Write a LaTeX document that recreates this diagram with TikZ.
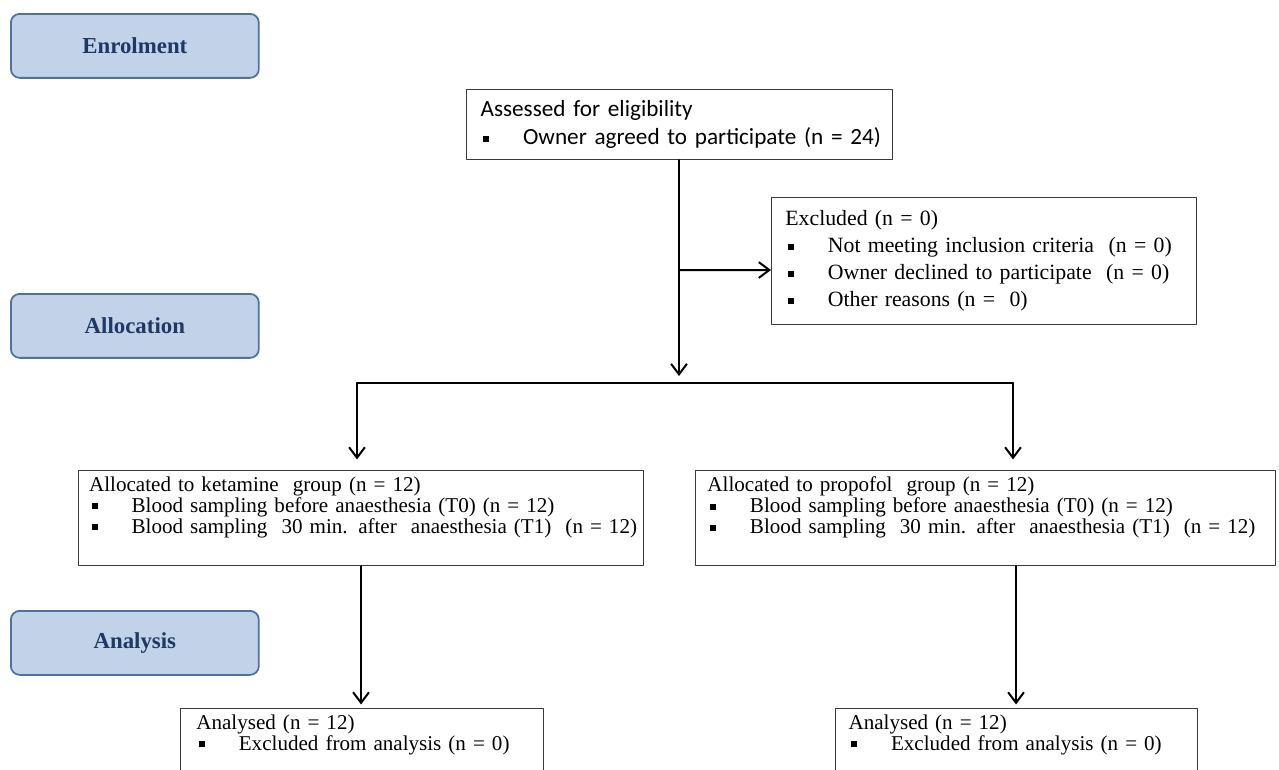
\documentclass[tikz,border=0pt]{standalone}
\usepackage{fontspec}
\setmainfont{Liberation Serif}
\newfontfamily\calibri{Carlito}
\usetikzlibrary{arrows.meta,positioning,calc}
\definecolor{phasefill}{HTML}{C2D3E9}
\definecolor{phaseline}{HTML}{4F719C}
\definecolor{phasetext}{HTML}{1F3864}
\definecolor{boxline}{HTML}{3A3A3A}
\newcommand{\sq}{\makebox[24.2pt][l]{\hspace{1.5pt}\rule[1.6pt]{3.4pt}{3.4pt}}}
\newcommand{\padbot}[1]{\rule[-#1]{0pt}{#1}}

\begin{document}
\begin{tikzpicture}[x=0.02cm,y=-0.02cm,font=\fontsize{12}{11.9}\selectfont,>={Straight Barb[length=6pt,width=9pt]},line cap=round,line join=round]
\tikzset{
 phase/.style={draw=phaseline,fill=phasefill,line width=1pt,rounded corners=5pt,anchor=north west,
  minimum width=4.96cm,minimum height=1.28cm,text=phasetext,font=\fontsize{13}{15}\selectfont\bfseries},
 panel/.style={draw=boxline,line width=0.6pt,anchor=north west,align=left,inner xsep=5.5pt,inner ysep=3.5pt},
 arr/.style={->,line width=0.04cm},
 conn/.style={line width=0.04cm}
}
\path[use as bounding box,clip] (0,0) rectangle (1279,769);
% phase labels on the left
\node[phase] (enrol) at (10,13) {Enrolment};
\node[phase] (alloc) at (10,293) {Allocation};
\node[phase] (anal) at (10,610) {Analysis};
% enrolment and exclusion
\node[panel,inner xsep=4pt,text width=8.24cm,minimum height=1.4cm,font=\calibri\fontsize{13.2}{15.9}\selectfont] (assess) at (466,89)
 {\hspace*{4pt}Assessed for eligibility\\ \hspace*{4pt}\sq Owner agreed to participate (n = 24)};
\node[panel,inner xsep=7.9pt,text width=7.94cm,minimum height=2.54cm,font=\fontsize{12.4}{15.3}\selectfont] (excl) at (771,197)
 {Excluded (n = 0)\\ \sq Not meeting inclusion criteria\ \ (n = 0)\\ \sq Owner declined to participate\ \ (n = 0)\\ \sq Other reasons (n =\ \ 0)};
% the two groups
\node[panel,inner xsep=4pt,text width=11.02cm] (ket) at (78,470)
 {\hspace*{2pt}Allocated to ketamine\ \ group (n = 12)\\ \hspace*{2pt}\sq Blood sampling before anaesthesia (T0) (n = 12)\\
  \mbox{\hspace*{2pt}\sq Blood sampling\ \ 30 min. after\ \ anaesthesia (T1)\ \ (n = 12)}\padbot{15pt}};
\node[panel,inner xsep=6.8pt,text width=11.12cm] (prop) at (695,470)
 {Allocated to propofol\ \ group (n = 12)\\ \sq Blood sampling before anaesthesia (T0) (n = 12)\\
  \mbox{\sq Blood sampling\ \ 30 min. after\ \ anaesthesia (T1)\ \ (n = 12)}\padbot{15pt}};
% analysed, cut off by the page edge
\node[panel,inner xsep=9pt,text width=6.62cm] (analL) at (180,708)
 {Analysed (n = 12)\\ \sq Excluded from analysis (n = 0)\padbot{20pt}};
\node[panel,inner xsep=7.4pt,text width=6.72cm] (analR) at (835,708)
 {Analysed (n = 12)\\ \sq Excluded from analysis (n = 0)\padbot{20pt}};
% connectors
\coordinate (mainTip) at (679,376);
\coordinate (joinL) at (357,383);
\coordinate (joinR) at (1013,383);
\coordinate (downL) at (361,0);
\coordinate (downR) at (1016,0);
\draw[arr] (assess.south -| mainTip) -- (mainTip);
\draw[arr] (mainTip |- excl.west) ++(0,9) -- ([yshift=-0.18cm]excl.west);
\draw[conn] (joinL) -- (joinR);
\draw[arr,shorten >=6pt] (joinL) -- (joinL |- ket.north);
\draw[arr,shorten >=6pt] (joinR) -- (joinR |- prop.north);
\draw[arr,shorten >=2pt] (ket.south -| downL) -- (analL.north -| downL);
\draw[arr,shorten >=2pt] (prop.south -| downR) -- (analR.north -| downR);
\end{tikzpicture}
\end{document}
